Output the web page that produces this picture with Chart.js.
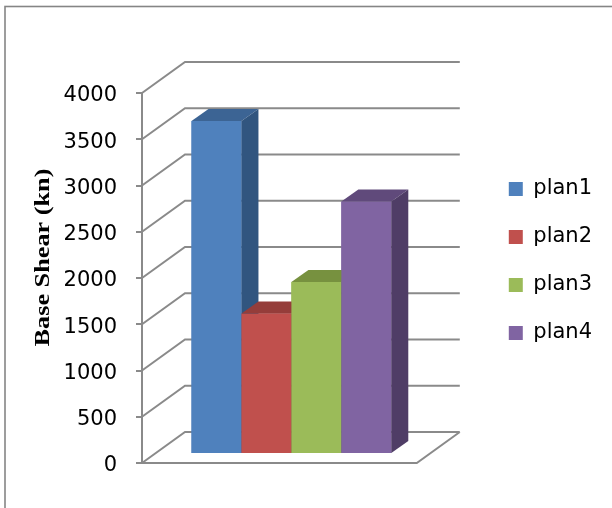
<!DOCTYPE html>
<html>
<head>
<meta charset="utf-8">
<title>Base Shear</title>
<script src="https://cdn.jsdelivr.net/npm/chart.js@4.4.1/dist/chart.umd.min.js"></script>
<style>
  html, body { margin: 0; padding: 0; background: #fff; }
  #wrap { width: 612px; height: 508px; }
</style>
</head>
<body>
<div id="wrap"><canvas id="shearChart" width="612" height="508"></canvas></div>
<script>
// one category, one bar per plan
const CATEGORIES = [''];
const PLANS = ['plan1', 'plan2', 'plan3', 'plan4'];
const BASE_SHEAR = [3600, 1520, 1860, 2730];
const Y_MIN = 0;
const Y_MAX = 4000;
const Y_STEP = 500;
const Y_TITLE = 'Base Shear (kn)';

// front / top / side shades for the 3D boxes
const FRONT = ['#4F81BD', '#C0504D', '#9BBB59', '#8064A2'];
const TOP = ['#3C6494', '#953D3A', '#77913F', '#604A7B'];
const SIDE = ['#31557F', '#7D302E', '#62793A', '#4F3D66'];

const GRID = '#8a8a8a';
const WALL_DX = 43, WALL_DY = 31;        // depth of back wall / floor
const BAR_DX = 17, BAR_DY = 12;          // depth of each box
const BAR_SHIFT_X = 12, BAR_SHIFT_Y = 9; // boxes stand partway back on the floor
const TITLE_X = 44;
const TITLE_LIFT = 5;
const LABEL_FONT = { family: 'DejaVu Sans', size: 21 };

function drawBoxFaces(ctx, bar, i) {
  const { x, y, base, width } = bar.getProps(['x', 'y', 'base', 'width'], true);
  const l = x - width / 2, r = x + width / 2;
  ctx.fillStyle = TOP[i];
  ctx.beginPath();
  ctx.moveTo(l, y);
  ctx.lineTo(l + BAR_DX, y - BAR_DY);
  ctx.lineTo(r + BAR_DX, y - BAR_DY);
  ctx.lineTo(r, y);
  ctx.closePath();
  ctx.fill();
  ctx.fillStyle = SIDE[i];
  ctx.beginPath();
  ctx.moveTo(r, y);
  ctx.lineTo(r + BAR_DX, y - BAR_DY);
  ctx.lineTo(r + BAR_DX, base - BAR_DY);
  ctx.lineTo(r, base);
  ctx.closePath();
  ctx.fill();
}

const wall3d = {
  id: 'wall3d',
  beforeDraw(chart) {
    const ctx = chart.ctx;
    ctx.save();
    ctx.fillStyle = '#fff';
    ctx.fillRect(0, 0, chart.width, chart.height);
    ctx.strokeStyle = '#858585';
    ctx.lineWidth = 1.6;
    ctx.strokeRect(5, 6.5, chart.width + 20, chart.height + 20);
    ctx.restore();
  },
  beforeDatasetsDraw(chart) {
    const { ctx, chartArea: { left, right, bottom } } = chart;
    const y = chart.scales.y;
    ctx.save();
    ctx.strokeStyle = GRID;
    ctx.lineWidth = 2;
    ctx.beginPath();
    y.ticks.forEach(t => {
      const py = y.getPixelForValue(t.value);
      ctx.moveTo(left, py);
      ctx.lineTo(left + WALL_DX, py - WALL_DY);
      ctx.lineTo(right + WALL_DX, py - WALL_DY);
    });
    // floor front and right edges
    ctx.moveTo(left, bottom);
    ctx.lineTo(right, bottom);
    ctx.lineTo(right + WALL_DX, bottom - WALL_DY);
    ctx.stroke();
    ctx.restore();

    ctx.save();
    ctx.translate(BAR_SHIFT_X, -BAR_SHIFT_Y);
  },
  afterDatasetsDraw(chart) {
    const ctx = chart.ctx;
    // left to right: each box covers the side of the one before it
    PLANS.forEach((_, i) => {
      chart.getDatasetMeta(i).data.forEach(bar => {
        bar.draw(ctx);
        drawBoxFaces(ctx, bar, i);
      });
    });
    ctx.restore();
  },
  afterDraw(chart) {
    const { ctx, chartArea: { top, bottom } } = chart;
    ctx.save();
    ctx.translate(TITLE_X, (top - WALL_DY + bottom) / 2 - TITLE_LIFT);
    ctx.rotate(-Math.PI / 2);
    ctx.scale(1.25, 1);
    ctx.font = 'bold 21px "Liberation Serif", "Times New Roman", serif';
    ctx.fillStyle = '#000';
    ctx.textAlign = 'center';
    ctx.textBaseline = 'middle';
    ctx.fillText(Y_TITLE, 0, 0);
    ctx.restore();
  }
};

// invisible axes used only to reserve room around the plot
const spacer = (position, size) => ({
  type: 'linear',
  position,
  display: true,
  grid: { display: false },
  border: { display: false },
  ticks: { display: false },
  afterFit: s => {
    if (position === 'top') s.height = size; else s.width = size;
  }
});

const datasets = PLANS.map((name, i) => ({
  label: name,
  data: [BASE_SHEAR[i]],
  backgroundColor: FRONT[i],
  borderWidth: 0,
  xAxisID: 'x',
  yAxisID: 'y',
  clip: false
}));

new Chart(document.getElementById('shearChart'), {
  type: 'bar',
  data: { labels: CATEGORIES, datasets },
  plugins: [wall3d],
  options: {
    responsive: false,
    animation: false,
    layout: { padding: { left: 45, top: 59, right: 10, bottom: 45 } },
    datasets: { bar: { categoryPercentage: 0.727, barPercentage: 1 } },
    scales: {
      x: { type: 'category', display: false },
      xGap: spacer('top', 34),
      y: {
        min: Y_MIN,
        max: Y_MAX,
        ticks: {
          stepSize: Y_STEP,
          padding: 19,
          labelOffset: 3,
          color: '#000',
          font: LABEL_FONT,
          callback: v => String(v)
        },
        grid: { drawOnChartArea: false, drawTicks: true, tickLength: 6, color: GRID, lineWidth: 2 },
        border: { display: true, color: GRID, width: 2 },
        afterFit: s => {
          s.width = 97;
          s.paddingTop = 0;
          s.paddingBottom = 0;
        }
      },
      yGap: spacer('right', 65)
    },
    plugins: {
      tooltip: { enabled: false },
      legend: {
        position: 'right',
        maxWidth: 130,
        labels: {
          boxWidth: 14,
          boxHeight: 14,
          padding: 27,
          color: '#000',
          font: LABEL_FONT
        }
      }
    }
  }
});
</script>
</body>
</html>
